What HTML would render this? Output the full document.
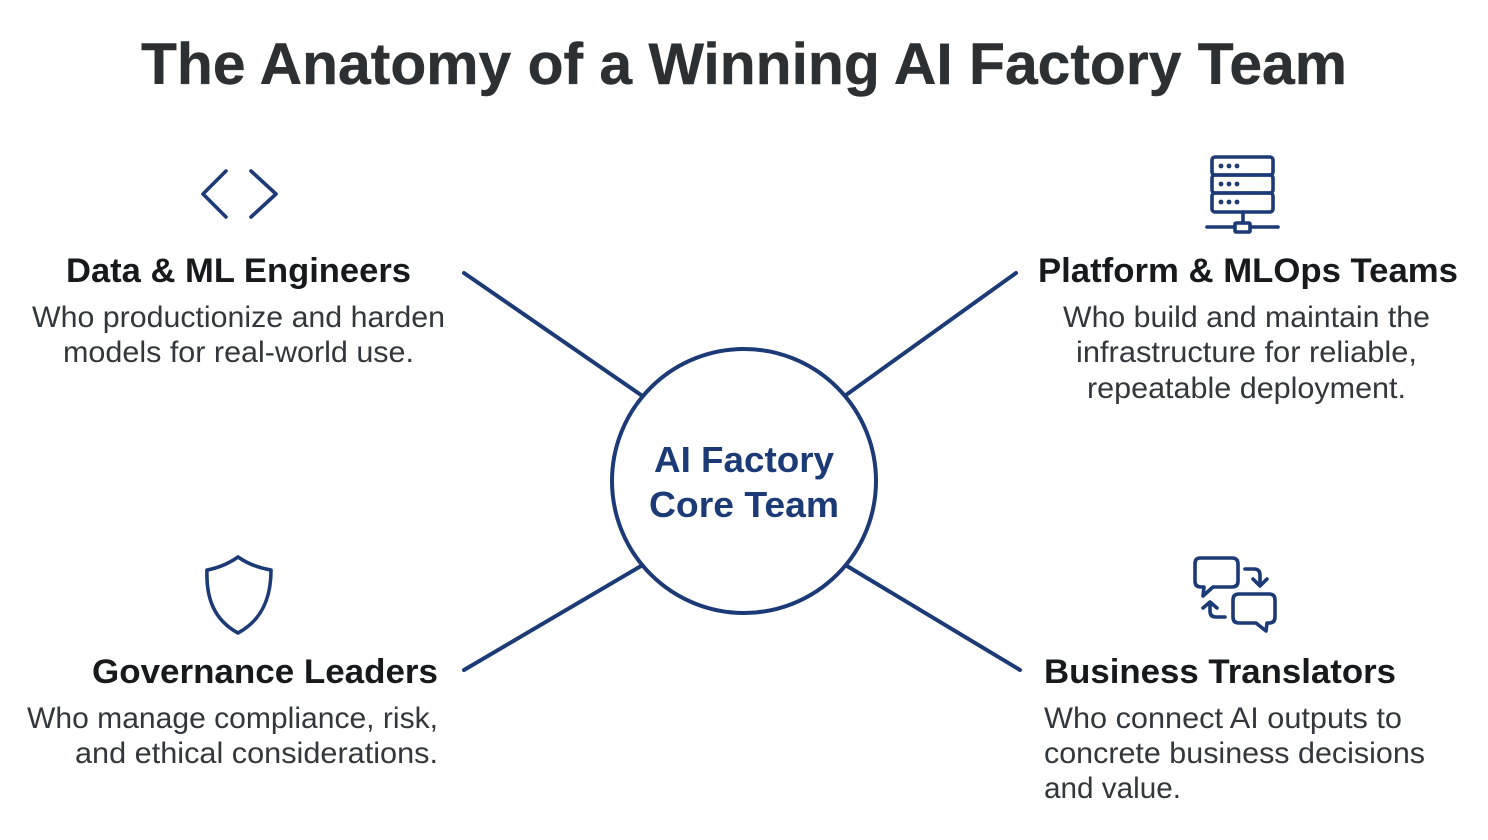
<!DOCTYPE html>
<html lang="en">
<head>
<meta charset="utf-8">
<title>The Anatomy of a Winning AI Factory Team</title>
<style>
html,body{margin:0;padding:0;background:#fff;width:1488px;height:840px;overflow:hidden}
svg{display:block;filter:blur(.35px)}
text{font-family:"Liberation Sans",Arial,sans-serif}
.t{font-size:58px;font-weight:700;fill:#2c3032;stroke:#2c3032;stroke-width:.4px}
.h{font-size:34px;font-weight:700;fill:#17191b}
.b{font-size:29.5px;fill:#33363a}
.c{font-size:36px;font-weight:700;fill:#1b3a76}
.ln{stroke:#1b3a76;stroke-width:4;stroke-linecap:round;fill:none}
.ic{stroke:#1b3a76;stroke-width:3.6;stroke-linecap:round;stroke-linejoin:round;fill:none}
</style>
</head>
<body>
<svg width="1488" height="840" viewBox="0 0 1488 840" xmlns="http://www.w3.org/2000/svg">
<rect width="1488" height="840" fill="#fff"/>
<text class="t" x="141" y="84" textLength="1206" lengthAdjust="spacingAndGlyphs">The Anatomy of a Winning AI Factory Team</text>

<line class="ln" x1="464" y1="273" x2="641" y2="395"/>
<line class="ln" x1="1016" y1="273" x2="846" y2="395"/>
<line class="ln" x1="464" y1="670" x2="641" y2="566"/>
<line class="ln" x1="1020" y1="670" x2="847" y2="566"/>
<circle cx="744" cy="481" r="132" fill="#fff" stroke="#1b3a76" stroke-width="4"/>
<text class="c" x="654" y="472" textLength="180" lengthAdjust="spacingAndGlyphs">AI Factory</text>
<text class="c" x="649" y="517" textLength="190" lengthAdjust="spacingAndGlyphs">Core Team</text>

<!-- code icon -->
<path class="ic" d="M226 171 203 194 226 217M251 171 276 194 251 217"/>

<!-- server icon -->
<g class="ic">
<rect x="1212" y="157" width="61" height="18" rx="3"/>
<rect x="1212" y="175" width="61" height="18" rx="3"/>
<rect x="1212" y="193" width="61" height="19" rx="3"/>
<path d="M1243 212V223M1207 227H1234M1251 227H1278"/>
<rect x="1235" y="223" width="15" height="9" rx="1"/>
</g>
<g fill="#1b3a76">
<circle cx="1221" cy="166" r="2.4"/><circle cx="1229" cy="166" r="2.4"/><circle cx="1237" cy="166" r="2.4"/>
<circle cx="1221" cy="184" r="2.4"/><circle cx="1229" cy="184" r="2.4"/><circle cx="1237" cy="184" r="2.4"/>
<circle cx="1221" cy="202" r="2.4"/><circle cx="1229" cy="202" r="2.4"/><circle cx="1237" cy="202" r="2.4"/>
</g>

<!-- shield icon -->
<path class="ic" d="M238 557C228 564 218 568 207 570C206 598 214 620 238 633C262 620 271 598 271 570C259 568 248 564 238 557Z"/>

<!-- chat icon -->
<g class="ic">
<path d="M1200 558H1232Q1238 558 1238 564V581Q1238 587 1232 587H1213L1203 596L1204 587H1201Q1195 587 1195 581V564Q1195 558 1200 558Z"/>
<path d="M1239 594H1269Q1275 594 1275 600V617Q1275 623 1269 623H1267L1266 631L1256 623H1239Q1233 623 1233 617V600Q1233 594 1239 594Z"/>
<path d="M1245 569H1254Q1260 569 1260 575V585M1253 579 1260 586 1267 579"/>
<path d="M1225 617H1216Q1210 617 1210 611V603M1203 608 1210 602 1217 608"/>
</g>

<text class="h" x="66" y="282" textLength="345" lengthAdjust="spacingAndGlyphs">Data &amp; ML Engineers</text>
<text class="b" x="32" y="327" textLength="413" lengthAdjust="spacingAndGlyphs">Who productionize and harden</text>
<text class="b" x="63" y="362" textLength="351" lengthAdjust="spacingAndGlyphs">models for real-world use.</text>

<text class="h" x="1038" y="282" textLength="420" lengthAdjust="spacingAndGlyphs">Platform &amp; MLOps Teams</text>
<text class="b" x="1063" y="327" textLength="367" lengthAdjust="spacingAndGlyphs">Who build and maintain the</text>
<text class="b" x="1076" y="362" textLength="341" lengthAdjust="spacingAndGlyphs">infrastructure for reliable,</text>
<text class="b" x="1087" y="398" textLength="319" lengthAdjust="spacingAndGlyphs">repeatable deployment.</text>

<text class="h" x="92" y="683" textLength="346" lengthAdjust="spacingAndGlyphs">Governance Leaders</text>
<text class="b" x="27" y="728" textLength="411" lengthAdjust="spacingAndGlyphs">Who manage compliance, risk,</text>
<text class="b" x="75" y="763" textLength="363" lengthAdjust="spacingAndGlyphs">and ethical considerations.</text>

<text class="h" x="1044" y="683" textLength="352" lengthAdjust="spacingAndGlyphs">Business Translators</text>
<text class="b" x="1044" y="728" textLength="358" lengthAdjust="spacingAndGlyphs">Who connect AI outputs to</text>
<text class="b" x="1044" y="763" textLength="381" lengthAdjust="spacingAndGlyphs">concrete business decisions</text>
<text class="b" x="1044" y="798" textLength="137" lengthAdjust="spacingAndGlyphs">and value.</text>
</svg>
</body>
</html>
